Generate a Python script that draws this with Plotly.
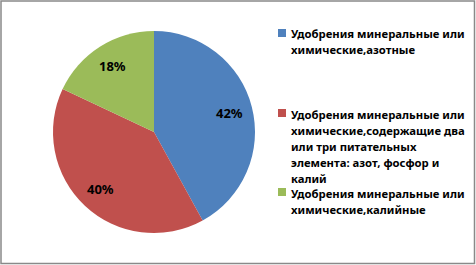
import math
import plotly.graph_objects as go

categories = [
    "Удобрения минеральные или химические,азотные",
    "Удобрения минеральные или химические,содержащие два или три питательных элемента: азот, фосфор и калий",
    "Удобрения минеральные или химические,калийные",
]
legend_lines = [
    ["Удобрения минеральные или", "химические,азотные"],
    ["Удобрения минеральные или", "химические,содержащие два", "или три питательных",
     "элемента: азот, фосфор и", "калий"],
    ["Удобрения минеральные или", "химические,калийные"],
]
values = [42, 40, 18]
colors = ["#4F81BD", "#C0504D", "#9BBB59"]

W, H = 476, 265
FONT = "Noto Sans"
CX, CY, R = 154, 132, 101  # pie centre / radius in px

fig = go.Figure()
fig.add_trace(go.Pie(
    labels=categories,
    values=values,
    sort=False,
    direction="clockwise",
    rotation=0,
    marker=dict(colors=colors, line=dict(width=0)),
    textinfo="none",
    domain=dict(x=[(CX - R) / W, (CX + R) / W], y=[1 - (CY + R) / H, 1 - (CY - R) / H]),
    showlegend=False,
    hoverinfo="label+percent",
))

annotations = []
# percentage labels placed along each slice's mid-angle (derived from the values)
total = sum(values)
cum = 0
for v in values:
    mid = (cum + v / 2) / total * 2 * math.pi
    cum += v
    px = CX + 0.77 * R * math.sin(mid)
    py = CY - 0.77 * R * math.cos(mid)
    annotations.append(dict(xref="paper", yref="paper", x=px / W, y=1 - py / H,
                            xanchor="center", yanchor="middle", showarrow=False,
                            text=f"{round(v / total * 100)}%",
                            font=dict(family=FONT, size=13, color="black", weight="bold")))

square_y = [33, 113, 192]
LINE = 16
shapes = [dict(type="rect", xref="paper", yref="paper",
               x0=1 / W, x1=(W - 1.5) / W, y0=1.5 / H, y1=1 - 1 / H,
               line=dict(color="#898989", width=1.5), fillcolor="rgba(0,0,0,0)")]
for lines, col, sy in zip(legend_lines, colors, square_y):
    shapes.append(dict(type="rect", xref="paper", yref="paper",
                       x0=278 / W, x1=286 / W, y0=1 - (sy + 4) / H, y1=1 - (sy - 4) / H,
                       line=dict(width=0), fillcolor=col))
    for i, ln in enumerate(lines):
        annotations.append(dict(xref="paper", yref="paper", x=289 / W, y=1 - (sy + 1 + i * LINE) / H,
                                xanchor="left", yanchor="middle", align="left",
                                showarrow=False, text=ln,
                                font=dict(family=FONT, size=11.3, color="black", weight="bold")))

fig.update_layout(
    width=W, height=H,
    margin=dict(l=0, r=0, t=0, b=0),
    paper_bgcolor="white",
    plot_bgcolor="white",
    shapes=shapes,
    annotations=annotations,
)
fig.write_html(
    "out.html",
    config={"displayModeBar": False},
    post_script="document.body.style.margin='0';document.body.style.overflow='hidden';",
)
